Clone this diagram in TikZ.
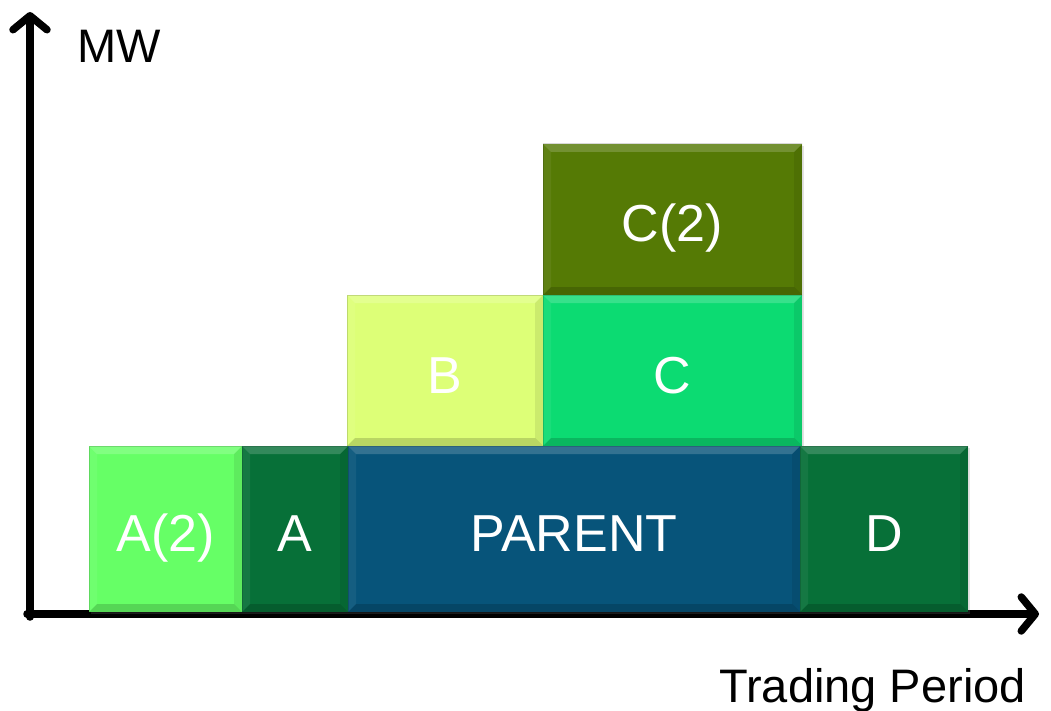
\documentclass[tikz,border=0pt]{standalone}
\usepackage{fontspec}
\setmainfont{Liberation Sans}
\usetikzlibrary{arrows.meta,shadows}
\definecolor{aTwo}{HTML}{66FF66}
\definecolor{darkgreen}{HTML}{077038}
\definecolor{parentblue}{HTML}{07547A}
\definecolor{lime}{HTML}{DDFF77}
\definecolor{mint}{HTML}{0CDB72}
\definecolor{olive}{HTML}{557A05}
\tikzset{
  axis/.style={line width=7.5pt, line cap=round,
    -{Straight Barb[length=14pt,width=34pt,round]}},
  blk/.style={draw=none, inner sep=0pt, text=white,
    font=\fontsize{52}{60}\selectfont, text height=45pt, text depth=0pt,
    drop shadow={opacity=0.22, shadow xshift=2pt, shadow yshift=-2pt},
    path picture={
      % bevelled edges: light top, soft left, darker right and bottom
      \fill[white,opacity=0.18] (path picture bounding box.north west) -- (path picture bounding box.north east)
        -- ([shift={(-8pt,-8pt)}]path picture bounding box.north east) -- ([shift={(8pt,-8pt)}]path picture bounding box.north west) -- cycle;
      \fill[white,opacity=0.06] (path picture bounding box.north west) -- (path picture bounding box.south west)
        -- ([shift={(8pt,8pt)}]path picture bounding box.south west) -- ([shift={(8pt,-8pt)}]path picture bounding box.north west) -- cycle;
      \fill[black,opacity=0.08] (path picture bounding box.north east) -- (path picture bounding box.south east)
        -- ([shift={(-8pt,8pt)}]path picture bounding box.south east) -- ([shift={(-8pt,-8pt)}]path picture bounding box.north east) -- cycle;
      \fill[black,opacity=0.16] (path picture bounding box.south west) -- (path picture bounding box.south east)
        -- ([shift={(-8pt,8pt)}]path picture bounding box.south east) -- ([shift={(8pt,8pt)}]path picture bounding box.south west) -- cycle;
      \draw[black,opacity=0.15,line width=1pt] (path picture bounding box.south west) rectangle (path picture bounding box.north east);
    }},
  axislabel/.style={inner sep=0pt, font=\fontsize{47}{56}\selectfont}
}
\begin{document}
\begin{tikzpicture}[x=1pt,y=-1pt]
\useasboundingbox (0,0) rectangle (1051,711);
% axes
\coordinate (origin) at (30,614);
\coordinate (ytip) at (30,12);
\coordinate (xtip) at (1039,614);
\draw[axis] (30,617) -- (ytip);
\draw[axis] (27,614) -- (xtip);
% upper blocks
\node[blk, fill=olive, minimum width=259pt, minimum height=151pt] (c2) at (672.5,219.5) {C(2)};
\node[blk, fill=lime, minimum width=196pt, minimum height=151pt] (b) at (445,370.5) {B};
\node[blk, fill=mint, minimum width=259pt, minimum height=151pt] (c) at (672.5,370.5) {C};
% bottom row
\node[blk, fill=aTwo, minimum width=153pt, minimum height=166pt] (a2) at (165.5,529) {A(2)};
\node[blk, fill=darkgreen, minimum width=106pt, minimum height=166pt] (a) at (295,529) {A};
\node[blk, fill=parentblue, minimum width=452pt, minimum height=166pt] (parent) at (574,529) {PARENT};
\node[blk, fill=darkgreen, minimum width=168pt, minimum height=166pt] (d) at (884,529) {D};
% axis labels
\node[axislabel, anchor=base west] (mw) at (77,63) {MW};
\node[axislabel, anchor=base east] (tp) at (1026,702) {Trading Period};
\end{tikzpicture}
\end{document}
